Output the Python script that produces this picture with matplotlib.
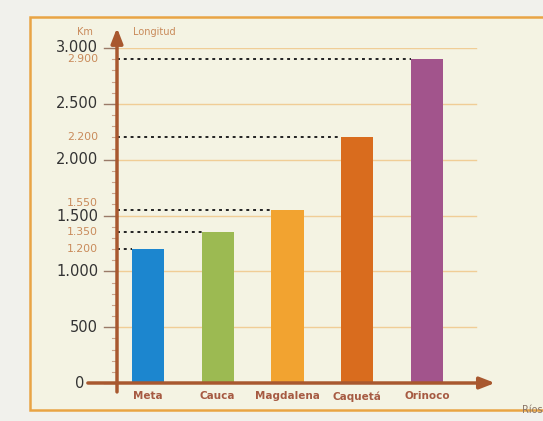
import matplotlib.pyplot as plt
from matplotlib.patches import Rectangle

# Longitud de los ríos (km)
rios = ["Meta", "Cauca", "Magdalena", "Caquetá", "Orinoco"]
longitud = [1200, 1350, 1550, 2200, 2900]
colores = ["#1c86cf", "#9cba52", "#f2a330", "#d96c1e", "#a2548c"]

ticks_y = [0, 500, 1000, 1500, 2000, 2500, 3000]
ticks_menores = list(range(0, 3001, 100))

marron = "#a8582f"
naranja_txt = "#c98a5a"
rejilla = "#f0cd96"


def miles(v):
    return f"{v:,}".replace(",", ".")


fig = plt.figure(figsize=(5.43, 4.21), dpi=100, facecolor="#f1f1ec")

# recuadro de fondo
fig.add_artist(Rectangle((30 / 543, 11 / 421), 1.2, (410 - 17) / 421,
                         transform=fig.transFigure, facecolor="#f4f3e3",
                         edgecolor="#e9a445", linewidth=1.8, zorder=0))

ax = fig.add_axes([117 / 543, 38 / 421, 378 / 543, 335 / 421])
ax.set_xlim(-0.444, 4.975)
ax.set_ylim(0, 3000)
ax.axis("off")
ax.patch.set_visible(False)

ytr = ax.get_yaxis_transform()

# líneas de rejilla
for v in ticks_y[1:]:
    ax.plot([0, 0.95], [v, v], transform=ytr, color=rejilla, lw=1, zorder=1)

# barras
x = list(range(len(rios)))
ax.bar(x, longitud, width=0.46, color=colores, zorder=3)

# líneas punteadas desde el eje hasta cada barra
for i, v in enumerate(longitud):
    ax.plot([-0.444, i - 0.23], [v, v], color="#222222", lw=1.4,
            linestyle=(0, (1.5, 2)), zorder=4, clip_on=False)

# marcas del eje vertical
for v in ticks_menores:
    ax.plot([-0.012, 0], [v, v], transform=ytr, color="#c9a58c", lw=0.8,
            clip_on=False, zorder=2)
for v in ticks_y:
    ax.plot([-0.035, 0], [v, v], transform=ytr, color="#9a7a68", lw=1,
            clip_on=False, zorder=2)
    xt = -0.085 if v == 0 else -0.05
    dy = -1 if v == 1500 else 0
    ax.annotate(miles(v), xy=(xt, v), xycoords=ytr, xytext=(0, dy),
                textcoords="offset points", ha="right", va="center",
                fontsize=10.5, color="#333333")

# valores de cada río (1.550 algo más arriba para no pisar 1.500)
for v in longitud:
    dy = 5 if v == 1550 else 0
    ax.annotate(miles(v), xy=(-0.05, v), xycoords=ytr, xytext=(0, dy),
                textcoords="offset points", ha="right", va="center",
                fontsize=7.8, color=naranja_txt)

# ejes con flecha
ax.annotate("", xy=(0, 3180), xytext=(0, -80), xycoords=ytr, textcoords=ytr,
            arrowprops=dict(arrowstyle="-|>,head_length=0.9,head_width=0.35",
                            color=marron, lw=2.5, shrinkA=0, shrinkB=0),
            zorder=5)
ax.annotate("", xy=(1.0, 0), xytext=(-0.077, 0), xycoords=ytr, textcoords=ytr,
            arrowprops=dict(arrowstyle="-|>,head_length=0.9,head_width=0.35",
                            color=marron, lw=2.5, shrinkA=0, shrinkB=0),
            zorder=5)

# nombres de los ríos
for i, r in enumerate(rios):
    ax.text(i, -120, r, ha="center", va="center", fontsize=7.5,
            color="#a65a42", family=["Liberation Sans Narrow", "DejaVu Sans"],
            fontweight="bold")

ax.text(-0.085, 3145, "Km", transform=ytr, ha="center", va="center",
        fontsize=7, color=naranja_txt)
ax.text(0.042, 3145, "Longitud", transform=ytr, ha="left", va="center",
        fontsize=7, color=naranja_txt)
ax.text(1.071, -240, "Ríos", transform=ytr, ha="left", va="center",
        fontsize=7, color="#8a7466")

fig.savefig("out.png", dpi=100, facecolor=fig.get_facecolor())
